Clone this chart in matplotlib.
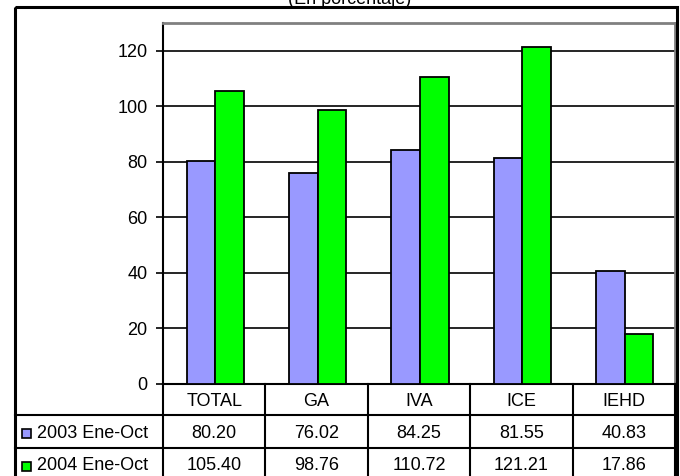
import matplotlib
matplotlib.use("Agg")
import matplotlib.pyplot as plt
import matplotlib.transforms as mtransforms
from matplotlib.patches import Rectangle
import numpy as np

plt.rcParams['font.family'] = ['Liberation Sans', 'DejaVu Sans']

categories = ["TOTAL", "GA", "IVA", "ICE", "IEHD"]
series_names = ["2003 Ene-Oct", "2004 Ene-Oct"]
values_2003 = [80.20, 76.02, 84.25, 81.55, 40.83]
values_2004 = [105.40, 98.76, 110.72, 121.21, 17.86]
table_2003 = ["80.20", "76.02", "84.25", "81.55", "40.83"]
table_2004 = ["105.40", "98.76", "110.72", "121.21", "17.86"]
yticks = [0, 20, 40, 60, 80, 100, 120]
title = "(En porcentaje)"

colors = ["#9999FF", "#00FF00"]
FS = 13

W, H = 680, 476
fig = plt.figure(figsize=(6.8, 4.76), dpi=100)

# pixel-based layout
ax_l, ax_r, ax_t, ax_b = 163, 675, 23, 384
ax = fig.add_axes([ax_l / W, 1 - ax_b / H, (ax_r - ax_l) / W, (ax_b - ax_t) / H])

x = np.arange(len(categories))
bw = 0.28
ax.bar(x - 0.13, values_2003, bw, color=colors[0], edgecolor="black", linewidth=1.3, zorder=3)
ax.bar(x + 0.15, values_2004, bw, color=colors[1], edgecolor="black", linewidth=1.3, zorder=3)

ax.set_xlim(-0.5, len(categories) - 0.5)
ax.set_ylim(0, 130)
ax.set_yticks(yticks)
ax.set_yticklabels([str(v) for v in yticks], fontsize=FS)
ax.tick_params(axis="y", length=5, width=1.2, pad=6, color="black")
ax.set_xticks([])
ax.yaxis.grid(True, color="black", linewidth=1.2, zorder=0)
ax.set_axisbelow(True)
for s in ["top", "right"]:
    ax.spines[s].set_color("#808080")
    ax.spines[s].set_linewidth(2.0)
for s in ["left", "bottom"]:
    ax.spines[s].set_color("black")
    ax.spines[s].set_linewidth(1.5)

# overlay in pixel coords
ov = fig.add_axes([0, 0, 1, 1], zorder=5)
ov.set_xlim(0, W)
ov.set_ylim(H, 0)
ov.axis("off")
ov.patch.set_alpha(0)

# outer frame
ov.add_patch(Rectangle((15, 7), 662, 480, fill=False, edgecolor="black", linewidth=2.2, clip_on=False))

bt = mtransforms.blended_transform_factory(ax.transData, ov.transData)

# table lines
for y in [415, 448]:
    ov.plot([15, 677], [y, y], color="black", linewidth=1.5)
for i in range(len(categories) + 1):
    ov.plot([i - 0.5, i - 0.5], [384, 480], color="black", linewidth=1.5, transform=bt, clip_on=False)

row_y = [401, 433, 466]
for i, c in enumerate(categories):
    ov.text(i, row_y[0], c, ha="center", va="center", fontsize=FS, transform=bt)
    ov.text(i, row_y[1], table_2003[i], ha="center", va="center", fontsize=FS, transform=bt)
    ov.text(i, row_y[2], table_2004[i], ha="center", va="center", fontsize=FS, transform=bt)

for k, name in enumerate(series_names):
    yy = row_y[k + 1]
    ov.add_patch(Rectangle((22, yy - 4.5), 9, 9, facecolor=colors[k], edgecolor="black", linewidth=1.2))
    ov.text(37, yy, name, ha="left", va="center", fontsize=FS)

fig.text(350 / W, 1.0, title, ha="center", va="center", fontsize=FS)

fig.savefig("out.png", dpi=100)
